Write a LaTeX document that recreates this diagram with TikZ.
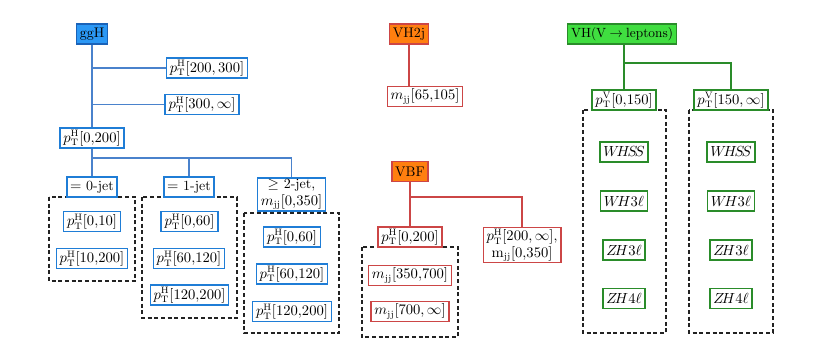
\documentclass[tikz,border=0pt]{standalone}
\usepackage{tikz}
\usetikzlibrary{positioning, calc}
\definecolor{azulCaja}{HTML}{1F7DD6}
\definecolor{azulLinea}{HTML}{4A82CC}
\definecolor{azulRelleno}{HTML}{2B98F5}
\definecolor{azulBorde}{HTML}{1A62B8}
\definecolor{rojoCaja}{HTML}{CC4646}
\definecolor{naranjaRelleno}{HTML}{FF7F0F}
\definecolor{verdeCaja}{HTML}{2A8C2A}
\definecolor{verdeRelleno}{HTML}{40DE40}
\definecolor{grisTrazo}{HTML}{222222}

\begin{document}
\begin{tikzpicture}[x=0.75pt, y=-0.75pt, font=\fontsize{10.5}{12.5}\selectfont,
        caja/.style={fill=white, line width=1.1pt, minimum height=15pt,
            inner xsep=2.5pt, inner ysep=1pt, align=center},
        cajaAzul/.style={caja, draw=azulCaja},
        cajaRoja/.style={caja, draw=rojoCaja},
        cajaVerde/.style={caja, draw=verdeCaja},
        cabAzul/.style={caja, draw=azulBorde, fill=azulRelleno},
        cabNaranja/.style={caja, draw=rojoCaja, fill=naranjaRelleno},
        cabVerde/.style={caja, draw=verdeCaja, fill=verdeRelleno},
        grupo/.style={draw=grisTrazo, line width=1pt, dash pattern=on 3pt off 2pt},
        relA/.style={azulLinea, line width=1.1pt},
        relR/.style={rojoCaja, line width=1.1pt},
        relV/.style={verdeCaja, line width=1.1pt}]
        \useasboundingbox (0,0) rectangle (830,361);
        % cajas punteadas
        \draw[grupo] (49,197) rectangle (135,281);
        \draw[grupo] (142,197) rectangle (237,318);
        \draw[grupo] (244,213) rectangle (339,333);
        \draw[grupo] (362,247) rectangle (458,337);
        \draw[grupo] (583,110) rectangle (666,333);
        \draw[grupo] (689,110) rectangle (773,333);
        % ggH
        \node[cabAzul] (ggh) at (92,34) {ggH};
        \node[cajaAzul] (ptA) at (207,68) {$p_{\mathrm{T}}^{\mathrm{H}}[200,300]$};
        \node[cajaAzul] (ptB) at (202,104.5) {$p_{\mathrm{T}}^{\mathrm{H}}[300,\infty]$};
        \node[cajaAzul] (ptC) at (92,138) {$p_{\mathrm{T}}^{\mathrm{H}}[0{,}200]$};
        \node[cajaAzul] (jet0) at (92,187) {$=$ 0-jet};
        \node[cajaAzul] (jet1) at (189,187) {$=$ 1-jet};
        \node[cajaAzul] (jet2) at (291.5,194.5) {$\geq$ 2-jet,\\$m_{\mathrm{jj}}[0{,}350]$};
        \node[cajaAzul] (a1) at (92,221.5) {$p_{\mathrm{T}}^{\mathrm{H}}[0{,}10]$};
        \node[cajaAzul] (a2) at (92,258.5) {$p_{\mathrm{T}}^{\mathrm{H}}[10{,}200]$};
        \node[cajaAzul] (b1) at (189.5,221.5) {$p_{\mathrm{T}}^{\mathrm{H}}[0{,}60]$};
        \node[cajaAzul] (b2) at (189,258.5) {$p_{\mathrm{T}}^{\mathrm{H}}[60{,}120]$};
        \node[cajaAzul] (b3) at (189.5,295) {$p_{\mathrm{T}}^{\mathrm{H}}[120{,}200]$};
        \node[cajaAzul] (c1) at (292,237) {$p_{\mathrm{T}}^{\mathrm{H}}[0{,}60]$};
        \node[cajaAzul] (c2) at (292,274) {$p_{\mathrm{T}}^{\mathrm{H}}[60{,}120]$};
        \node[cajaAzul] (c3) at (292,311.5) {$p_{\mathrm{T}}^{\mathrm{H}}[120{,}200]$};
        \coordinate (busA) at (92,158);
        \draw[relA] (ggh) -- (ptC);
        \draw[relA] (ggh |- ptA) -- (ptA);
        \draw[relA] (ggh |- ptB) -- (ptB);
        \draw[relA] (ptC) -- (busA) -- (jet0);
        \draw[relA] (busA) -| (jet1);
        \draw[relA] (busA) -| (jet2);
        % VH2j
        \node[cabNaranja] (vh2j) at (409,34) {VH2j};
        \node[cajaRoja] (mjj) at (425,96.5) {$m_{\mathrm{jj}}[65{,}105]$};
        \draw[relR] (vh2j) -- (vh2j |- mjj.north);
        % VBF
        \node[cabNaranja] (vbf) at (410,171.5) {VBF};
        \node[cajaRoja] (vbfA) at (410,237) {$p_{\mathrm{T}}^{\mathrm{H}}[0{,}200]$};
        \node[cajaRoja] (vbfB) at (522,245) {$p_{\mathrm{T}}^{\mathrm{H}}[200,\infty]$,\\$\mathrm{m_{jj}}[0{,}350]$};
        \node[cajaRoja] (r1) at (410,275.5) {$m_{\mathrm{jj}}[350{,}700]$};
        \node[cajaRoja] (r2) at (410,311.5) {$m_{\mathrm{jj}}[700,\infty]$};
        \coordinate (busR) at (410,197);
        \draw[relR] (vbf) -- (vbfA);
        \draw[relR] (busR) -| (vbfB);
        % VH(V -> leptons)
        \node[cabVerde, font=\normalsize] (vhl) at (622,34) {VH(V\hspace{2.5pt}$\rightarrow$\hspace{2.5pt}leptons)};
        \node[cajaVerde] (v1) at (624,100) {$p_{\mathrm{T}}^{\mathrm{V}}[0{,}150]$};
        \node[cajaVerde] (v2) at (731,100) {$p_{\mathrm{T}}^{\mathrm{V}}[150,\infty]$};
        \node[cajaVerde] (w1) at (624,152) {$W\!H\!S\!S$};
        \node[cajaVerde] (w2) at (624,201) {$W\!H3\ell$};
        \node[cajaVerde] (w3) at (624,250) {$Z\!H3\ell$};
        \node[cajaVerde] (w4) at (624,298.5) {$Z\!H4\ell$};
        \node[cajaVerde] (x1) at (731,152) {$W\!H\!S\!S$};
        \node[cajaVerde] (x2) at (731,201) {$W\!H3\ell$};
        \node[cajaVerde] (x3) at (731,250) {$Z\!H3\ell$};
        \node[cajaVerde] (x4) at (731,298.5) {$Z\!H4\ell$};
        \coordinate (busV) at (624,63);
        \draw[relV] (vhl.south -| busV) -- (v1);
        \draw[relV] (busV) -| (v2);
    \end{tikzpicture}
\end{document}
